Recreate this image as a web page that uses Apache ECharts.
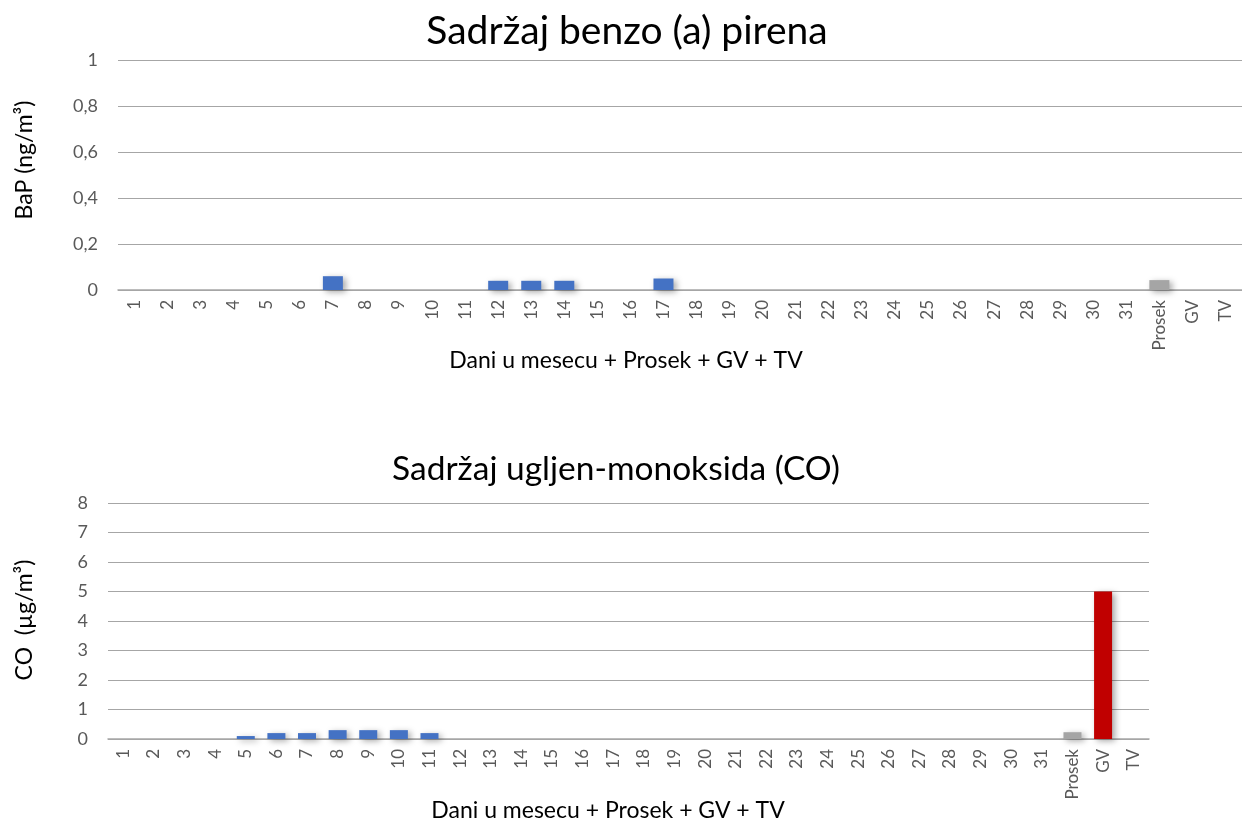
<!DOCTYPE html>
<html><head><meta charset="utf-8">
<script src="https://cdn.jsdelivr.net/npm/echarts@6/dist/echarts.min.js"></script>
<style>html,body{margin:0;padding:0;background:#fff}#c{width:1242px;height:820px}</style>
</head><body><div id="c"></div>
<script>
var categories = ['1','2','3','4','5','6','7','8','9','10','11','12','13','14','15','16','17','18','19','20','21','22','23','24','25','26','27','28','29','30','31','Prosek','GV','TV'];
var bapValues = [null,null,null,null,null,null,0.06,null,null,null,null,0.04,0.04,0.04,null,null,0.05,null,null,null,null,null,null,null,null,null,null,null,null,null,null,0.043,null,null];
var coValues = [null,null,null,null,0.1,0.2,0.2,0.3,0.3,0.3,0.2,null,null,null,null,null,null,null,null,null,null,null,null,null,null,null,null,null,null,null,null,0.23,5,null];
var bapTicks = [0,0.2,0.4,0.6,0.8,1];
var coTicks = [0,1,2,3,4,5,6,7,8];

var FONT = 'Lato, "Open Sans", sans-serif';
function colorFor(p){
  var n = categories[p.dataIndex];
  if (n === 'Prosek') return '#A5A5A5';
  if (n === 'GV') return '#C00000';
  return '#4472C4';
}
var chart = echarts.init(document.getElementById('c'), null, {renderer:'canvas'});
var axisLabelX = {rotate:90, color:'#595959', fontSize:17, fontFamily:FONT, margin:10, interval:0};
var option = {
  animation:false,
  title:[
    {text:'Sadržaj benzo (a) pirena', left:622, textAlign:'center', top:7, textStyle:{fontFamily:FONT, fontSize:39, fontWeight:'normal', color:'#000'}},
    {text:'Sadržaj ugljen-monoksida (CO)', left:611, textAlign:'center', top:447, textStyle:{fontFamily:FONT, fontSize:33.5, fontWeight:'normal', color:'#000'}},
    {text:'Dani u mesecu + Prosek + GV + TV', left:621, textAlign:'center', top:344, textStyle:{fontFamily:FONT, fontSize:23, fontWeight:'normal', color:'#000'}},
    {text:'Dani u mesecu + Prosek + GV + TV', left:603, textAlign:'center', top:794, textStyle:{fontFamily:FONT, fontSize:23, fontWeight:'normal', color:'#000'}}
  ],
  graphic:[
    {type:'text', x:25, y:160, rotation:Math.PI/2, style:{text:'BaP (ng/m³)', fontFamily:FONT, fontSize:23, fill:'#000', align:'center', verticalAlign:'middle'}},
    {type:'text', x:25, y:620, rotation:Math.PI/2, style:{text:'CO  (µg/m³)', fontFamily:FONT, fontSize:23, fill:'#000', align:'center', verticalAlign:'middle'}}
  ],
  grid:[
    {left:118, right:-10, top:60, height:230},
    {left:108, right:93, top:503, height:236}
  ],
  xAxis:[
    {type:'category', gridIndex:0, data:categories, axisTick:{show:false}, axisLine:{lineStyle:{color:'#A6A6A6', width:1.5}}, axisLabel:axisLabelX},
    {type:'category', gridIndex:1, data:categories, axisTick:{show:false}, axisLine:{lineStyle:{color:'#A6A6A6', width:1.5}}, axisLabel:axisLabelX}
  ],
  yAxis:[
    {type:'value', gridIndex:0, min:0, max:1, interval:0.2, axisLine:{show:false}, axisTick:{show:false},
     splitLine:{lineStyle:{color:'#A6A6A6', width:1.2}},
     axisLabel:{color:'#595959', fontSize:18, fontFamily:FONT, margin:20, formatter:function(v){return String(Math.round(v*10)/10).replace('.',',');}}},
    {type:'value', gridIndex:1, min:0, max:8, interval:1, axisLine:{show:false}, axisTick:{show:false},
     splitLine:{lineStyle:{color:'#A6A6A6', width:1.2}},
     axisLabel:{color:'#595959', fontSize:18, fontFamily:FONT, margin:20}}
  ],
  series:[
    {type:'bar', xAxisIndex:0, yAxisIndex:0, data:bapValues, barWidth:20,
     itemStyle:{color:colorFor, shadowColor:'rgba(0,0,0,0.35)', shadowBlur:6, shadowOffsetX:3, shadowOffsetY:2}},
    {type:'bar', xAxisIndex:1, yAxisIndex:1, data:coValues, barWidth:18,
     itemStyle:{color:colorFor, shadowColor:'rgba(0,0,0,0.35)', shadowBlur:6, shadowOffsetX:3, shadowOffsetY:2}}
  ]
};
chart.setOption(option);
</script></body></html>
